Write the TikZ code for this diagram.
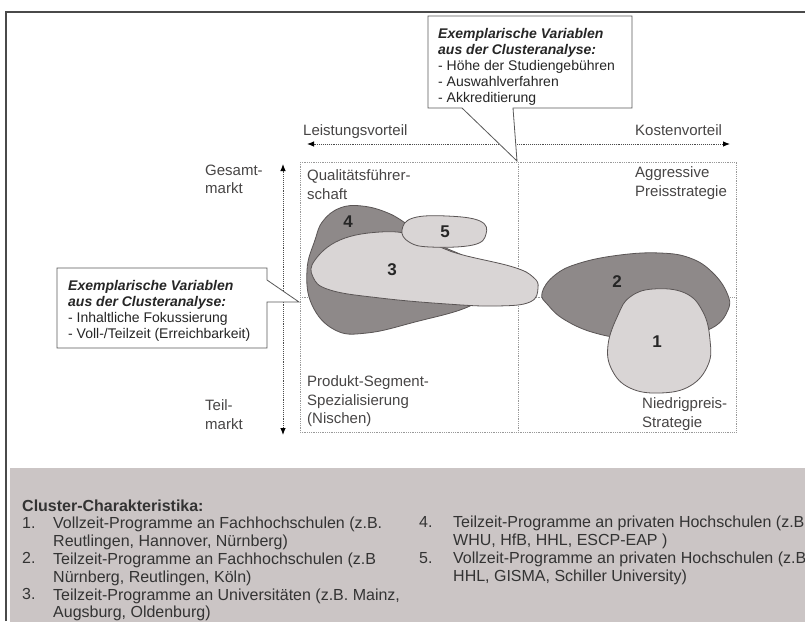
\documentclass[tikz,border=0pt]{standalone}
\usepackage{fontspec}
\setmainfont{Liberation Sans}
\usetikzlibrary{arrows.meta}
\definecolor{panel}{HTML}{CBC5C5}
\definecolor{darkblob}{HTML}{8E8989}
\definecolor{lightblob}{HTML}{D9D5D5}
\definecolor{txt}{HTML}{474545}
\definecolor{edge}{HTML}{5A5555}
\definecolor{frame}{HTML}{4A4A4A}
\tikzset{
  lbl/.style={inner sep=0pt, anchor=north west, align=left, text=txt, font=\fontsize{15}{18.5}\selectfont},
  calltxt/.style={inner sep=0pt, anchor=north west, align=left, text=black!85, font=\fontsize{14}{16}\selectfont},
  paneltxt/.style={inner sep=0pt, anchor=north west, align=left, text=black!80, font=\fontsize{16}{17.8}\selectfont},
  blobnum/.style={inner sep=0pt, text=black!85, font=\fontsize{17}{17}\selectfont\bfseries},
  dotline/.style={draw=gray!80, densely dotted, line width=0.8pt},
  axis/.style={draw=gray!60!black, densely dotted, line width=0.9pt, {Latex[length=7pt,width=5.5pt,black]}-{Latex[length=7pt,width=5.5pt,black]}},
  callout/.style={draw=gray!70!black, fill=white, line width=0.8pt},
  darkb/.style={draw=edge, fill=darkblob, line width=0.8pt},
  lightb/.style={draw=edge, fill=lightblob, line width=0.8pt}
}
\begin{document}
\begin{tikzpicture}[x=1pt,y=-1pt]
\useasboundingbox (0,0) rectangle (805,621);
\clip (0,0) rectangle (805,621);
\fill[white] (0,0) rectangle (805,621);
% frame
\draw[frame, line width=1.6pt] (6,621) -- (6,12) -- (806,12);
% bottom panel
\fill[panel] (10,468) rectangle (806,622);

% axes
\coordinate (hl) at (307,144);
\coordinate (hr) at (730,144);
\draw[axis] (hl) -- (hr);
\coordinate (vt) at (283,164);
\coordinate (vb) at (283,435);
\draw[axis] (vt) -- (vb);

\node[lbl] (leist) at (303,124.5) {Leistungsvorteil};
\node[lbl] (kost) at (635,124.5) {Kostenvorteil};
\node[lbl] (gesamt) at (205,164.5) {Gesamt-\\markt};
\node[lbl] (teil) at (205,399.5) {Teil-\\markt};

% matrix box
\draw[dotline] (300,162) rectangle (736,432);
\coordinate (ct) at (518,162);
\coordinate (cb) at (518,432);
\coordinate (ml) at (300,297);
\coordinate (mr) at (736,297);
\draw[dotline] (ct) -- (cb);
\draw[dotline] (ml) -- (mr);

\node[lbl] (qual) at (307,169.5) {Qualitätsführer-\\schaft};
\node[lbl] (aggr) at (635,166.5) {Aggressive\\Preisstrategie};
\node[lbl] (prod) at (307,375.5) {Produkt-Segment-\\Spezialisierung\\(Nischen)};
\node[lbl] (nied) at (642,397.5) {Niedrigpreis-\\Strategie};

% blobs
\draw[darkb] plot[smooth cycle, tension=0.7] coordinates {(315,240) (323,221) (340,208) (362,206) (388,213) (410,226) (440,245) (470,260) (495,285) (470,306) (415,322) (367,333) (335,330) (312,305) (307,270)};
\draw[lightb] plot[smooth cycle, tension=0.7] coordinates {(315,260) (340,240) (380,232) (413,235) (440,247) (463,255) (513,267) (533,277) (538,288) (530,302) (497,306) (447,304) (380,298) (330,290) (313,277)};
\draw[lightb] plot[smooth cycle, tension=0.7] coordinates {(402,230) (413,218) (447,216) (480,221) (486,234) (473,245) (430,247) (409,242)};
\draw[darkb] plot[smooth cycle, tension=0.7] coordinates {(542,293) (555,275) (580,263) (620,255) (660,253) (690,258) (712,272) (727,293) (728,310) (712,328) (680,335) (630,338) (595,333) (565,320) (548,305)};
\draw[lightb] plot[smooth cycle, tension=0.7] coordinates {(653,289) (630,297) (618,315) (608,345) (612,370) (630,388) (660,393) (690,386) (708,365) (710,340) (703,312) (685,293)};

\node[blobnum] (n4) at (348,222) {4};
\node[blobnum] (n5) at (445,232) {5};
\node[blobnum] (n3) at (392,270) {3};
\node[blobnum] (n2) at (617,282) {2};
\node[blobnum] (n1) at (657,342) {1};

% top callout
\coordinate (tip1) at (517,161);
\draw[callout] (428,16) -- (632,16) -- (632,108) -- (513,108) -- (tip1) -- (462,108) -- (428,108) -- cycle;
\node[calltxt] (ct1) at (438,28) {\textbf{\textit{Exemplarische Variablen}}\\\textbf{\textit{aus der Clusteranalyse:}}\\- Höhe der Studiengebühren\\- Auswahlverfahren\\- Akkreditierung};

% left callout
\coordinate (tip2) at (299,302);
\draw[callout] (57,268) -- (267,268) -- (267,280) -- (tip2) -- (267,302) -- (267,348) -- (57,348) -- cycle;
\node[calltxt] (ct2) at (68,280) {\textbf{\textit{Exemplarische Variablen}}\\\textbf{\textit{aus der Clusteranalyse:}}\\- Inhaltliche Fokussierung\\- Voll-/Teilzeit (Erreichbarkeit)};

% panel text
\node[paneltxt, font=\fontsize{16}{17.8}\selectfont\bfseries] (title) at (22,500) {Cluster-Charakteristika:};
\node[paneltxt] (i1n) at (22,517) {1.};
\node[paneltxt] (i1) at (53,517) {Vollzeit-Programme an Fachhochschulen (z.B.\\Reutlingen, Hannover, Nürnberg)};
\node[paneltxt] (i2n) at (22,552.6) {2.};
\node[paneltxt] (i2) at (53,552.6) {Teilzeit-Programme an Fachhochschulen (z.B\\Nürnberg, Reutlingen, Köln)};
\node[paneltxt] (i3n) at (22,588.2) {3.};
\node[paneltxt] (i3) at (53,588.2) {Teilzeit-Programme an Universitäten (z.B. Mainz,\\Augsburg, Oldenburg)};
\node[paneltxt] (i4n) at (419,516) {4.};
\node[paneltxt] (i4) at (453,516) {Teilzeit-Programme an privaten Hochschulen (z.B.\\WHU, HfB, HHL, ESCP-EAP )};
\node[paneltxt] (i5n) at (419,552) {5.};
\node[paneltxt] (i5) at (453,552) {Vollzeit-Programme an privaten Hochschulen (z.B.\\HHL, GISMA, Schiller University)};
\end{tikzpicture}
\end{document}
